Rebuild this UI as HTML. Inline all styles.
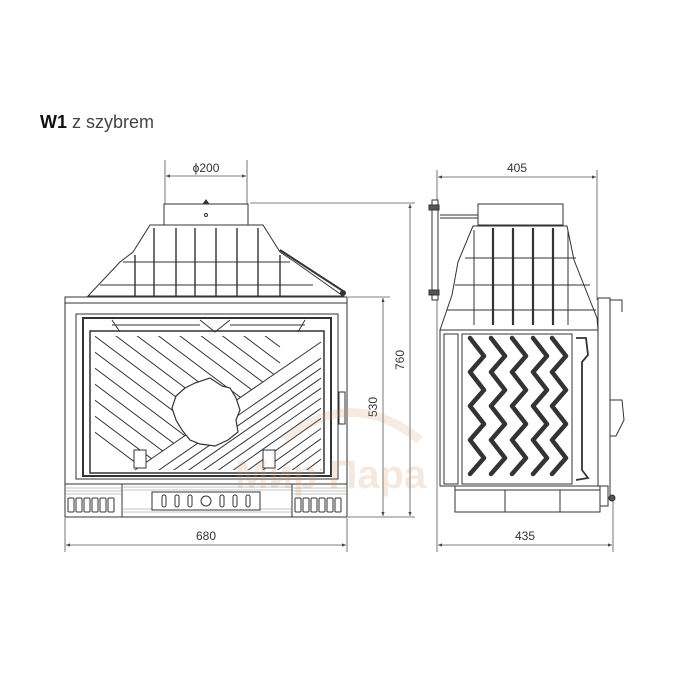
<!DOCTYPE html>
<html><head><meta charset="utf-8"><style>
html,body{margin:0;padding:0;background:#fff;width:700px;height:700px;overflow:hidden}
svg{display:block}
text{font-family:"Liberation Sans","DejaVu Sans",sans-serif;fill:#333}
</style></head><body>
<svg width="700" height="700" viewBox="0 0 700 700" xmlns="http://www.w3.org/2000/svg">
<defs>
<marker id="a" viewBox="0 0 10 10" refX="10" refY="5" markerWidth="7" markerHeight="5" orient="auto-start-reverse"><path d="M0,1 L10,5 L0,9 z" fill="#444"/></marker>
<clipPath id="fa"><polygon points="95,336 321,336 321,342 135,470 95,470"/></clipPath>
<clipPath id="fb"><polygon points="135,470 321,342 321,470"/></clipPath>
<clipPath id="zz"><rect x="462" y="334" width="110" height="150"/></clipPath>
</defs>
<text x="40" y="128" font-size="18" style="fill:#444"><tspan font-weight="bold" style="fill:#111">W1</tspan> z szybrem</text>

<g stroke="#555" stroke-width="0.8" fill="none">
<line x1="165" y1="160" x2="165" y2="204"/><line x1="247" y1="160" x2="247" y2="204"/>
<line x1="166" y1="176" x2="246" y2="176" marker-start="url(#a)" marker-end="url(#a)"/>
<line x1="250" y1="203" x2="415" y2="203"/>
<line x1="348" y1="297" x2="390" y2="297"/>
<line x1="348" y1="517" x2="415" y2="517"/>
<line x1="383" y1="298" x2="383" y2="516" marker-start="url(#a)" marker-end="url(#a)"/>
<line x1="410" y1="204" x2="410" y2="516" marker-start="url(#a)" marker-end="url(#a)"/>
<line x1="65" y1="518" x2="65" y2="552"/><line x1="347" y1="518" x2="347" y2="552"/>
<line x1="66" y1="545" x2="346" y2="545" marker-start="url(#a)" marker-end="url(#a)"/>
<line x1="437" y1="170" x2="437" y2="552"/><line x1="597" y1="170" x2="597" y2="300"/>
<line x1="438" y1="177" x2="596" y2="177" marker-start="url(#a)" marker-end="url(#a)"/>
<line x1="613" y1="500" x2="613" y2="552"/>
<line x1="438" y1="545" x2="612" y2="545" marker-start="url(#a)" marker-end="url(#a)"/>
</g>
<text x="206" y="172" font-size="12" text-anchor="middle">ϕ200</text>
<text x="206" y="540" font-size="12" text-anchor="middle">680</text>
<text x="517" y="172" font-size="12" text-anchor="middle">405</text>
<text x="525" y="540" font-size="12" text-anchor="middle">435</text>
<text transform="translate(377,407) rotate(-90)" font-size="12" text-anchor="middle">530</text>
<text transform="translate(404,360) rotate(-90)" font-size="12" text-anchor="middle">760</text>

<!-- FRONT VIEW -->
<g stroke="#333" stroke-width="1" fill="none">
<rect x="164" y="204" width="84" height="21" fill="#fff"/>
<circle cx="206" cy="215" r="1.5"/>
<path d="M203,204 l3,-4 l3,4" fill="#333"/>
<path d="M150,225 L263,225 L280,252 L295,262 L343,296 L88,296 L120,262 L133,252 Z"/>
<line x1="123" y1="262" x2="290" y2="262"/>
<line x1="100" y1="285" x2="313" y2="285"/>
<g stroke-width="1.4">
<line x1="154" y1="228" x2="154" y2="296"/><line x1="176" y1="228" x2="176" y2="296"/>
<line x1="195" y1="228" x2="195" y2="296"/><line x1="216" y1="228" x2="216" y2="296"/>
<line x1="237" y1="228" x2="237" y2="296"/><line x1="258" y1="228" x2="258" y2="296"/>
<line x1="135" y1="255" x2="135" y2="296"/><line x1="280" y1="255" x2="280" y2="296"/>
</g>
<path d="M280,250 L343,291" stroke-width="2"/>
<circle cx="343" cy="293" r="2.5" fill="#333"/>
<rect x="65" y="297" width="282" height="187" fill="#fff"/>
<line x1="65" y1="303" x2="347" y2="303"/>
<rect x="76" y="314" width="262" height="165"/>
<rect x="83" y="318" width="248" height="158" stroke-width="2"/>
<rect x="90" y="331" width="234" height="142" stroke-width="1.5"/>
<path d="M112,325 L200,325 M230,325 L305,325" />
<path d="M200,320 L215,332 L230,320" />
<path d="M112,320 L120,332 M305,320 L298,332"/>
<g clip-path="url(#fa)" stroke-width="1">
<line x1="20" y1="200" x2="280" y2="395"/><line x1="20" y1="216" x2="280" y2="411"/>
<line x1="20" y1="232" x2="280" y2="427"/><line x1="20" y1="248" x2="280" y2="443"/>
<line x1="20" y1="264" x2="280" y2="459"/><line x1="20" y1="280" x2="280" y2="475"/>
<line x1="20" y1="296" x2="280" y2="491"/><line x1="20" y1="312" x2="280" y2="507"/>
<line x1="20" y1="328" x2="280" y2="523"/><line x1="20" y1="344" x2="280" y2="539"/>
<line x1="20" y1="360" x2="280" y2="555"/><line x1="20" y1="376" x2="280" y2="571"/>
<line x1="20" y1="184" x2="280" y2="379"/><line x1="20" y1="168" x2="280" y2="363"/>
<line x1="20" y1="152" x2="280" y2="347"/><line x1="20" y1="136" x2="280" y2="331"/>
<line x1="20" y1="120" x2="280" y2="315"/><line x1="20" y1="104" x2="280" y2="299"/>
<line x1="20" y1="88" x2="280" y2="283"/><line x1="20" y1="72" x2="280" y2="267"/>
<line x1="20" y1="56" x2="280" y2="251"/><line x1="20" y1="40" x2="280" y2="235"/>
</g>
<g clip-path="url(#fb)" stroke-width="1">
<line x1="130" y1="490" x2="340" y2="345"/><line x1="145" y1="490" x2="340" y2="355"/>
<line x1="160" y1="490" x2="340" y2="365"/><line x1="175" y1="490" x2="340" y2="375"/>
<line x1="190" y1="490" x2="340" y2="385"/><line x1="205" y1="490" x2="340" y2="395"/>
<line x1="220" y1="490" x2="340" y2="405"/><line x1="235" y1="490" x2="340" y2="415"/>
<line x1="250" y1="490" x2="340" y2="425"/><line x1="265" y1="490" x2="340" y2="435"/>
<line x1="280" y1="490" x2="340" y2="445"/><line x1="295" y1="490" x2="340" y2="455"/>
</g>
<line x1="135" y1="470" x2="321" y2="342"/>
<path d="M195,383 L210,378 L222,386 L230,388 L236,398 L240,410 L236,420 L238,432 L228,440 L215,446 L200,444 L190,440 L182,430 L176,420 L172,408 L176,396 L185,388 Z" fill="#fff" stroke-width="1.2"/>
<rect x="134" y="450" width="12" height="18" fill="#fff"/><rect x="263" y="450" width="12" height="18" fill="#fff"/>
<rect x="339" y="392" width="6" height="32" fill="#fff"/>
<rect x="65" y="484" width="282" height="33" fill="#fff"/>
<g stroke="#888" stroke-width="0.6">
<line x1="123" y1="487" x2="292" y2="487"/><line x1="123" y1="490" x2="292" y2="490"/>
<line x1="123" y1="512" x2="292" y2="512"/><line x1="123" y1="509" x2="292" y2="509"/>
<line x1="66" y1="488" x2="121" y2="488"/><line x1="66" y1="491" x2="121" y2="491"/><line x1="66" y1="494" x2="121" y2="494"/>
<line x1="293" y1="488" x2="346" y2="488"/><line x1="293" y1="491" x2="346" y2="491"/><line x1="293" y1="494" x2="346" y2="494"/>
</g>
<line x1="122" y1="484" x2="122" y2="517"/><line x1="292" y1="484" x2="292" y2="517"/>
<rect x="152" y="492" width="108" height="18" fill="#fff"/>
<g>
<rect x="162" y="495" width="4" height="12" rx="2"/><rect x="175" y="495" width="4" height="12" rx="2"/><rect x="188" y="495" width="4" height="12" rx="2"/>
<circle cx="206" cy="501" r="5"/>
<rect x="220" y="495" width="4" height="12" rx="2"/><rect x="233" y="495" width="4" height="12" rx="2"/><rect x="246" y="495" width="4" height="12" rx="2"/>
</g>
<g>
<rect x="68" y="498" width="6" height="14" rx="1"/><rect x="76" y="498" width="6" height="14" rx="1"/><rect x="84" y="498" width="6" height="14" rx="1"/><rect x="92" y="498" width="6" height="14" rx="1"/><rect x="100" y="498" width="6" height="14" rx="1"/><rect x="108" y="498" width="6" height="14" rx="1"/>
<rect x="295" y="498" width="6" height="14" rx="1"/><rect x="303" y="498" width="6" height="14" rx="1"/><rect x="311" y="498" width="6" height="14" rx="1"/><rect x="319" y="498" width="6" height="14" rx="1"/><rect x="327" y="498" width="6" height="14" rx="1"/><rect x="335" y="498" width="6" height="14" rx="1"/>
</g>
</g>

<!-- SIDE VIEW -->
<g stroke="#333" stroke-width="1" fill="none">
<rect x="478" y="204" width="85" height="21" fill="#fff"/>
<line x1="440" y1="218" x2="478" y2="218"/><line x1="440" y1="215" x2="478" y2="215"/>
<rect x="432" y="200" width="6" height="100" fill="#fff"/>
<rect x="429" y="205" width="10" height="5" fill="#555"/><rect x="429" y="290" width="10" height="5" fill="#555"/>
<path d="M473,226 L567,226 L574,260 L597,318 L598,330 L440,330 L452,295 L458,262 Z" fill="#fff"/>
<line x1="465" y1="258" x2="576" y2="258"/><line x1="455" y1="285" x2="590" y2="285"/>
<line x1="447" y1="310" x2="596" y2="310"/>
<g stroke-width="2.2">
<line x1="493" y1="228" x2="493" y2="325"/><line x1="513" y1="228" x2="513" y2="325"/>
<line x1="533" y1="228" x2="533" y2="325"/><line x1="553" y1="228" x2="553" y2="325"/>
</g>
<line x1="474" y1="230" x2="474" y2="325"/><line x1="568" y1="230" x2="568" y2="325"/>
<rect x="440" y="330" width="158" height="156" fill="#fff"/>
<rect x="444" y="334" width="14" height="150"/>
<rect x="462" y="334" width="110" height="150"/>
<path d="M576,338 L586,338 L588,355 L582,362 L582,470 L588,478 L576,480" stroke-width="1.8"/>
<rect x="598" y="298" width="12" height="200" fill="#fff"/>
<path d="M610,300 L622,300 L622,312 M610,400 L622,400 L624,420 L616,436 L610,436"/>
<rect x="455" y="486" width="145" height="26" fill="#fff"/>
<line x1="455" y1="490" x2="600" y2="490"/>
<line x1="505" y1="490" x2="505" y2="512"/><line x1="560" y1="490" x2="560" y2="512"/>
<rect x="600" y="486" width="8" height="20" fill="#fff"/>
<circle cx="612" cy="498" r="3" fill="#555"/>
<g clip-path="url(#zz)" stroke="#333" stroke-width="4.5" stroke-linejoin="round" stroke-linecap="round">
<polyline points="470,338 484,356 470,372 484,390 470,406 484,424 470,440 484,458 470,474"/>
<polyline points="491,338 505,356 491,372 505,390 491,406 505,424 491,440 505,458 491,474"/>
<polyline points="512,338 526,356 512,372 526,390 512,406 526,424 512,440 526,458 512,474"/>
<polyline points="533,338 547,356 533,372 547,390 533,406 547,424 533,440 547,458 533,474"/>
<polyline points="552,338 566,356 552,372 566,390 552,406 566,424 552,440 566,458 552,474"/>
</g>
</g>

<!-- watermark -->
<path d="M285,440 Q350,385 420,440" stroke="rgba(210,150,100,0.18)" stroke-width="9" fill="none"/>
<text x="235" y="488" font-size="40" font-weight="bold" style="fill:rgba(210,150,105,0.22)">Мир Пара</text>
</svg>
</body></html>
